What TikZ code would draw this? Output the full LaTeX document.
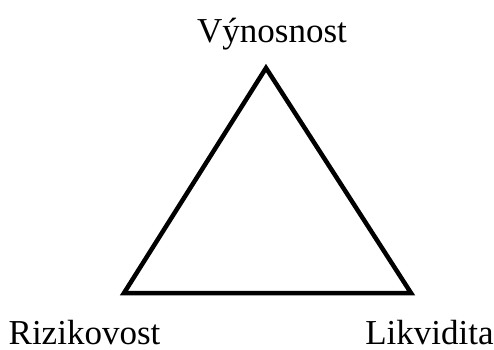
\documentclass[tikz,border=0pt]{standalone}
\usepackage{fontspec}
\setmainfont{Liberation Serif}
\usetikzlibrary{positioning}

\begin{document}
\begin{tikzpicture}[x=1pt, y=1pt, font=\fontsize{35}{40}\selectfont,
    label/.style={inner sep=0pt, anchor=base}]
    \useasboundingbox (0,0) rectangle (494,349);
    % vertices of the triangle
    \coordinate (top) at (266,281);
    \coordinate (left) at (124,56);
    \coordinate (right) at (411,56);
    \draw[line width=4.5pt] (top) -- (left) -- (right) -- cycle;
    \node[label] (vyn) at (272,307) {Výnosnost};
    \node[label] (riz) at (84.5,5) {Rizikovost};
    \node[label] (lik) at (429.5,5) {Likvidita};
  \end{tikzpicture}
\end{document}
